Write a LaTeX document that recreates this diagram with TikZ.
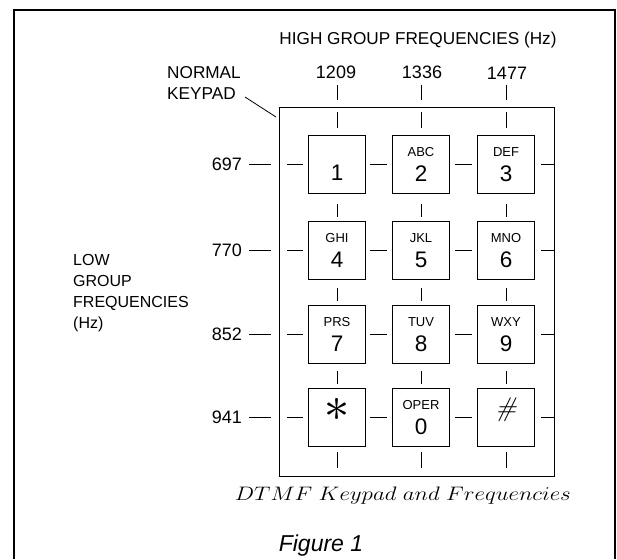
\documentclass[tikz,border=0pt]{standalone}
\usepackage{graphicx}
\usepackage{fontspec}
\setmainfont{Liberation Sans}
\newfontfamily\lmfont{Latin Modern Roman}
\newfontfamily\lmmfont{Latin Modern Math}
\tikzset{
  lbl/.style={font=\fontsize{16}{21}\selectfont, inner sep=0pt, align=left},
  biglbl/.style={font=\fontsize{17.2}{21}\selectfont, inner sep=0pt, align=left},
  freq/.style={font=\fontsize{18}{20}\selectfont, inner sep=0pt},
  keybox/.style={draw, line width=0.9pt, minimum width=57pt, minimum height=58pt, inner sep=0pt},
  keylet/.style={font=\fontsize{13}{14}\selectfont, inner sep=0pt},
  keydig/.style={font=\fontsize{22.5}{24}\selectfont, inner sep=0pt},
  tick/.style={line width=0.8pt},
  frameline/.style={line width=2.8pt, line join=miter}
}
\begin{document}
\begin{tikzpicture}[x=1pt,y=-1pt]
\useasboundingbox (0,0) rectangle (617,559);
% outer frame
\draw[frameline] (14,559) -- (14,10) -- (615,10) -- (615,559);
% keypad outline
\node[draw, line width=0.9pt, minimum width=275pt, minimum height=369pt, inner sep=0pt] (pad) at (416.5,291.5) {};
% titles
\node[biglbl, align=center] (high) at (418,40) {HIGH GROUP FREQUENCIES (Hz)};
\node[biglbl, anchor=west] (normal) at (167,82.5) {NORMAL\\KEYPAD};
\node[lbl, anchor=west] (low) at (73,293) {LOW\\GROUP\\FREQUENCIES\\(Hz)};
\coordinate (leadA) at (245,97);
\coordinate (leadB) at (276,117);
\draw[tick] (leadA) -- (leadB);
% high frequencies
\node[freq] (f1209) at (336,72) {1209};
\node[freq] (f1336) at (422,72) {1336};
\node[freq] (f1477) at (507,73) {1477};
% low frequencies
\node[freq, anchor=east] (f697) at (242,164) {697};
\node[freq, anchor=east] (f770) at (242,250) {770};
\node[freq, anchor=east] (f852) at (242,334) {852};
\node[freq, anchor=east] (f941) at (242,417) {941};
% keys
\node[keybox] (k1) at (337,164) {};
\node[keybox] (k2) at (421,164) {};
\node[keybox] (k3) at (506,164) {};
\node[keybox] (k4) at (337,250) {};
\node[keybox] (k5) at (421,250) {};
\node[keybox] (k6) at (506,250) {};
\node[keybox] (k7) at (337,334) {};
\node[keybox] (k8) at (421,334) {};
\node[keybox] (k9) at (506,334) {};
\node[keybox] (kast) at (337,417) {};
\node[keybox] (k0) at (421,417) {};
\node[keybox] (khash) at (506,417) {};
% key texts
\node[keydig] (d1) at ([yshift=-9pt]k1.center) {1};
\foreach \k/\l/\d in {k2/ABC/2,k3/DEF/3,k4/GHI/4,k5/JKL/5,k6/MNO/6,k7/PRS/7,k8/TUV/8,k9/WXY/9,k0/OPER/0}{
  \node[keylet] (\k l) at ([yshift=11.5pt]\k.center) {\l};
  \node[keydig] (\k d) at ([yshift=-10pt]\k.center) {\d};
}
\node[inner sep=0pt, font=\fontsize{50}{50}\selectfont\lmmfont] (dast) at ([yshift=7pt]kast.center) {∗};
\node[inner sep=0pt, font=\fontsize{27}{28}\selectfont\lmfont\itshape] (dhash) at ([yshift=7pt]khash.center) {\#};
% vertical ticks
\foreach \cx in {337,421,506}{
  \draw[tick] (\cx,85) -- (\cx,100);
  \draw[tick] (\cx,112) -- (\cx,128);
  \draw[tick] (\cx,204) -- (\cx,217);
  \draw[tick] (\cx,288) -- (\cx,301);
  \draw[tick] (\cx,371) -- (\cx,384);
  \draw[tick] (\cx,452) -- (\cx,468);
}
% horizontal ticks
\foreach \cy in {164,250,334,417}{
  \draw[tick] (249,\cy) -- (271,\cy);
  \draw[tick] (287,\cy) -- (303,\cy);
  \draw[tick] (370,\cy) -- (387,\cy);
  \draw[tick] (455,\cy) -- (472,\cy);
  \draw[tick] (541,\cy) -- (pad.east |- 0,\cy);
}
% captions
\node[inner sep=0pt, font=\fontsize{17.28}{20}\selectfont] (cap) at (403,496) {\scalebox{1.33}[1.13]{$DTMF\ Keypad\ and\ Frequencies$}};
\node[inner sep=0pt, font=\fontsize{23}{26}\selectfont\itshape] (fig) at (321,546) {Figure 1};
\end{tikzpicture}
\end{document}
